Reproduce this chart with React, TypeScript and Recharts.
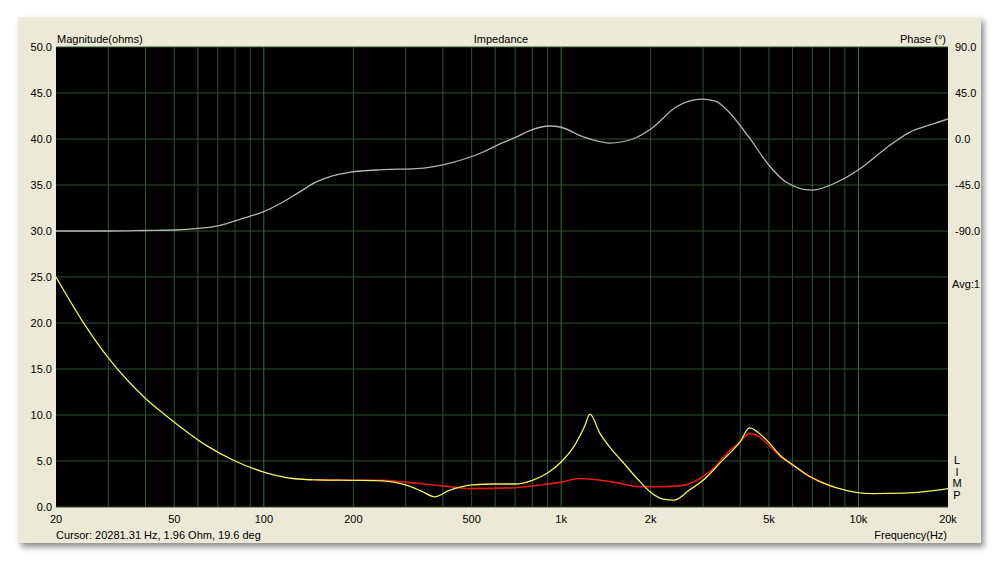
import {
  CartesianGrid,
  Line,
  LineChart,
  ReferenceLine,
  XAxis,
  YAxis,
} from 'recharts'

// impedance magnitude (yellow), ohms
const magFreqs = [20, 25, 30, 40, 46.6, 64, 80, 100, 125, 150, 200, 250, 300, 340, 376, 420, 460, 500, 600, 700, 800, 900, 1000, 1100, 1200, 1250, 1350, 1450, 1600, 1800, 2000, 2200, 2400, 2700, 3050, 3450, 4000, 4300, 4600, 5000, 5500, 6000, 6700, 7500, 8400, 9800, 11200, 14000, 17000, 20000]
const magOhms = [25, 19.8, 16.2, 11.8, 10, 6.7, 5.0, 3.8, 3.1, 2.95, 2.9, 2.85, 2.4, 1.7, 1.1, 1.8, 2.2, 2.4, 2.5, 2.5, 2.9, 3.7, 4.9, 6.5, 8.8, 10.1, 8.0, 6.6, 5.0, 3.1, 1.6, 0.85, 0.75, 1.85, 3.1, 4.9, 7.1, 8.6, 8.1, 7.0, 5.5, 4.6, 3.5, 2.7, 2.1, 1.6, 1.45, 1.5, 1.7, 2.0]

// second magnitude trace (red), ohms
const redFreqs = [150, 200, 250, 300, 400, 500, 700, 900, 1000, 1150, 1500, 1850, 2000, 2500, 2930, 3300, 3600, 4000, 4300, 4600, 5000, 5500, 6000, 6700, 7500, 8400]
const redOhms = [2.95, 2.9, 2.9, 2.7, 2.3, 2.0, 2.1, 2.5, 2.7, 3.1, 2.7, 2.2, 2.2, 2.3, 3.1, 4.4, 5.8, 7.1, 8.0, 7.7, 6.7, 5.4, 4.6, 3.5, 2.7, 2.1]

// phase (gray), degrees
const phaseFreqs = [20, 30, 40, 50, 60, 70, 80, 90, 100, 116, 130, 150, 170, 195, 251, 325, 423, 547, 620, 708, 780, 850, 913, 1000, 1180, 1455, 1740, 2025, 2435, 2970, 3300, 3610, 4300, 4990, 5700, 6970, 8500, 10200, 12400, 14900, 17500, 20000]
const phaseDeg = [-90, -90, -89.5, -89, -87.5, -85, -80, -75.5, -71, -61.6, -53, -42, -36, -32.5, -30, -29, -23.5, -12.7, -5, 2, 8, 11.5, 12.7, 11.5, 2.3, -4, 0, 10.8, 31.3, 39, 37, 28.4, 1, -25.4, -42, -50, -42, -28.4, -8.8, 6.8, 14, 19.6]

const freqTicks = [20, 50, 100, 200, 500, 1000, 2000, 5000, 10000, 20000]
const gridFreqs = [30, 40, 50, 60, 70, 80, 90, 100, 200, 300, 400, 500, 600, 700, 800, 900, 1000, 2000, 3000, 4000, 5000, 6000, 7000, 8000, 9000, 10000]
const ohmTicks = [0, 5, 10, 15, 20, 25, 30, 35, 40, 45, 50]
const phaseTicks = [-90, -45, 0, 45, 90]

const magData = magFreqs.map((f, i) => ({ f, v: magOhms[i] }))
const redData = redFreqs.map((f, i) => ({ f, v: redOhms[i] }))
const phaseData = phaseFreqs.map((f, i) => ({ f, v: phaseDeg[i] }))

const font = '"Liberation Sans", Arial, sans-serif'
const tickStyle = { fill: '#000', fontSize: 11, fontFamily: font }

const fmtFreq = (v: number) => (v >= 1000 ? `${v / 1000}k` : `${v}`)

function Txt({ x, y, children, right, center }: any) {
  const style: any = {
    position: 'absolute',
    top: y - 7,
    fontSize: 11,
    fontFamily: font,
    color: '#000',
    lineHeight: '14px',
    whiteSpace: 'nowrap',
  }
  if (right) style.right = 1000 - x
  else if (center) {
    style.left = x
    style.transform = 'translateX(-50%)'
  } else style.left = x
  return <div style={style}>{children}</div>
}

export default function App() {
  return (
    <div
      style={{
        position: 'absolute',
        left: 0,
        top: 0,
        width: 1000,
        height: 562,
        background: '#fff',
        overflow: 'hidden',
      }}
    >
      <div
        style={{
          position: 'absolute',
          left: 18,
          top: 17,
          width: 963,
          height: 526,
          background: '#ece9d8',
          boxShadow: '3px 4px 6px rgba(0,0,0,0.45)',
        }}
      />
      <div style={{ position: 'absolute', left: 0, top: 0 }}>
        <LineChart
          width={1000}
          height={562}
          margin={{ top: 47, right: 0, bottom: 25, left: 0 }}
        >
          <CartesianGrid
            yAxisId="left"
            vertical={false}
            stroke="#2d532d"
            fill="#000"
            fillOpacity={1}
          />
          {gridFreqs.map((f) => (
            <ReferenceLine
              key={f}
              x={f}
              yAxisId="left"
              stroke={f === 100 || f === 1000 || f === 10000 ? '#3a6a3a' : '#2d532d'}
              strokeWidth={1}
            />
          ))}
          <XAxis
            dataKey="f"
            type="number"
            scale="log"
            domain={[20, 20000]}
            ticks={freqTicks}
            tickFormatter={fmtFreq}
            allowDataOverflow
            axisLine={false}
            tickLine={false}
            tickSize={0}
            tickMargin={8}
            height={30}
            tick={tickStyle}
            interval={0}
          />
          <YAxis
            yAxisId="left"
            domain={[0, 50]}
            ticks={ohmTicks}
            tickFormatter={(v: number) => v.toFixed(1)}
            axisLine={false}
            tickLine={false}
            tickSize={0}
            tickMargin={4}
            width={56}
            tick={tickStyle}
            interval={0}
          />
          <YAxis
            yAxisId="right"
            orientation="right"
            domain={[-360, 90]}
            ticks={phaseTicks}
            tickFormatter={(v: number) => v.toFixed(1)}
            axisLine={false}
            tickLine={false}
            tickSize={0}
            tickMargin={7}
            width={52}
            tick={{ ...tickStyle, textAnchor: 'start' }}
            interval={0}
          />
          <Line
            yAxisId="right"
            data={phaseData}
            dataKey="v"
            type="monotone"
            stroke="#b4b4b4"
            strokeWidth={1.3}
            dot={false}
            isAnimationActive={false}
          />
          <Line
            yAxisId="left"
            data={redData}
            dataKey="v"
            type="monotone"
            stroke="#e01a12"
            strokeWidth={1.6}
            dot={false}
            isAnimationActive={false}
          />
          <Line
            yAxisId="left"
            data={magData}
            dataKey="v"
            type="monotone"
            stroke="#f2f25a"
            strokeWidth={1.3}
            dot={false}
            isAnimationActive={false}
          />
        </LineChart>
      </div>
      <Txt x={57} y={39}>Magnitude(ohms)</Txt>
      <Txt x={501} y={39} center>Impedance</Txt>
      <Txt x={946} y={39} right>Phase (°)</Txt>
      <Txt x={952} y={284}>Avg:1</Txt>
      <div
        style={{
          position: 'absolute',
          left: 952,
          top: 455,
          width: 10,
          fontSize: 11,
          fontFamily: font,
          lineHeight: '11.5px',
          textAlign: 'center',
          color: '#000',
        }}
      >
        L<br />I<br />M<br />P
      </div>
      <Txt x={56} y={535}>Cursor: 20281.31 Hz, 1.96 Ohm, 19.6 deg</Txt>
      <Txt x={947} y={535} right>Frequency(Hz)</Txt>
    </div>
  )
}
